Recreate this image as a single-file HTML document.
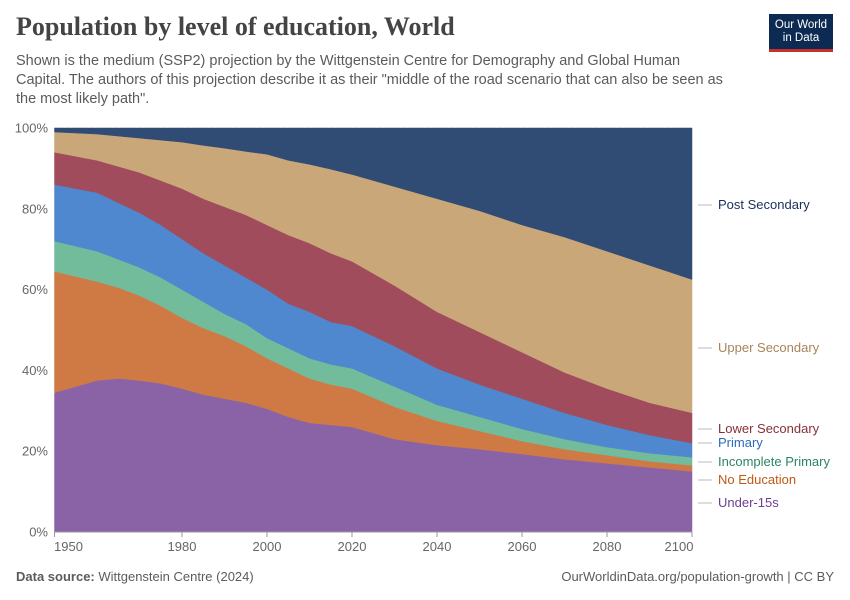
<!DOCTYPE html>
<html><head><meta charset="utf-8">
<style>
body{margin:0;width:850px;height:600px;background:#fff;font-family:"Liberation Sans",sans-serif;overflow:hidden}
.t{position:absolute}
</style></head><body>
<div class="t" style="left:16px;top:12px;font-family:'Liberation Serif',serif;font-size:26px;font-weight:bold;color:#444">Population by level of education, World</div>
<div class="t" style="left:16px;top:52px;width:715px;font-size:14.5px;line-height:19px;color:#5b5b5b">Shown is the medium (SSP2) projection by the Wittgenstein Centre for Demography and Global Human Capital. The authors of this projection describe it as their "middle of the road scenario that can also be seen as the most likely path".</div>
<div class="t" style="left:769px;top:14px;width:64px;height:38px;background:#0d2a52;color:#fff;font-size:11.5px;line-height:13px;text-align:center;padding-top:5px;box-sizing:border-box;border-bottom:3px solid #c8302c">Our World<br>in Data</div>
<svg class="t" style="left:0;top:0" width="850" height="600" id="chart"></svg>
<div class="t" style="left:16px;top:569px;font-size:13px;color:#5b5b5b"><b>Data source:</b> Wittgenstein Centre (2024)</div>
<div class="t" style="right:16px;top:569px;font-size:13px;color:#5b5b5b">OurWorldinData.org/population-growth | CC BY</div>
<script>
const years=[1950,1960,1965,1970,1975,1980,1985,1990,1995,2000,2005,2010,2015,2020,2030,2040,2050,2060,2070,2080,2090,2100];
const under15=[34.5,37.5,38,37.5,36.8,35.5,34,33,32,30.5,28.5,27,26.5,26,23,21.5,20.5,19.3,18,17,16,15];
const noEducation=[30,24.5,22.5,21,19.2,17.5,16.5,15.5,14,12.5,12,11,10,9.5,8,6,4.5,3.2,2.5,2,1.5,1.5];
const incompletePrimary=[7.5,7.5,7,7,7,7,6.5,5.5,5.5,5,5,5,5,5,5,4,3.5,3,2.5,2,2,2];
const primary=[14,14.5,14,13.5,13,12.5,12,12,11.5,12,11,11.5,10.5,10.5,10,9,8,7.5,6.5,5.5,4.5,3.5];
const lowerSecondary=[8,8,9,10,11,12.5,13.5,14.5,15.5,16,17,17,17,16,15,14,13,11.5,10,9,8,7.5];
const upperSecondary=[5,6.5,7.5,8.5,10,11.5,13.2,14.5,15.7,17.5,18.5,19.5,20.8,21.5,24.5,28,30,31.5,33.5,34,34,33];
const postSecondary=[1,1.5,2,2.5,3,3.5,4.3,5,5.8,6.5,8,9,10.2,11.5,14.5,17.5,20.5,24,27,30.5,34,37.5];
const yTicks=[0,20,40,60,80,100];
const xTicks=[1950,1980,2000,2020,2040,2060,2080,2100];
const series=[
 {n:"Under-15s",v:under15,c:"#8a63a6",tc:"#6d3e91",ly:507,k:"under-15s"},
 {n:"No Education",v:noEducation,c:"#cf7a45",tc:"#be5915",ly:484,k:"no-education"},
 {n:"Incomplete Primary",v:incompletePrimary,c:"#72bb9b",tc:"#2c8465",ly:466,k:"incomplete-primary"},
 {n:"Primary",v:primary,c:"#4f88cf",tc:"#286bbb",ly:447,k:"primary"},
 {n:"Lower Secondary",v:lowerSecondary,c:"#a04c5c",tc:"#883039",ly:433,k:"lower-secondary"},
 {n:"Upper Secondary",v:upperSecondary,c:"#c9a779",tc:"#a8845a",ly:352,k:"upper-secondary"},
 {n:"Post Secondary",v:postSecondary,c:"#304c75",tc:"#18305c",ly:209,k:"post-secondary"}];
const X0=54.5,X1=692,Y0=532,Y1=128;
const xs=y=>X0+(y-1950)/150*(X1-X0);
const ys=p=>Y0-p/100*(Y0-Y1);
const svg=document.getElementById('chart');const NS="http://www.w3.org/2000/svg";
function mk(t,a){const e=document.createElementNS(NS,t);for(const k in a)e.setAttribute(k,a[k]);svg.appendChild(e);return e;}
yTicks.forEach(t=>{
 const l=mk('line',{x1:X0,x2:X1,y1:ys(t),y2:ys(t),stroke:'#ddd','stroke-dasharray':t?'3,3':'0'});
 
 
 const tx=mk('text',{x:48,y:ys(t)+4.5,'text-anchor':'end','font-size':13,fill:'#666'});tx.textContent=t+'%';
 
 
});
let base=years.map(()=>0);
series.forEach(s=>{
 const top=base.map((b,i)=>b+s.v[i]);
 let d='M'+years.map((y,i)=>xs(y)+','+ys(top[i])).join('L');
 d+='L'+years.slice().reverse().map((y,j)=>xs(y)+','+ys(base[years.length-1-j])).join('L')+'Z';
 const p=mk('path',{d:d,fill:s.c,stroke:s.c,'stroke-width':0.5});
 
 
 base=top;
});
mk('line',{x1:X0,x2:X1,y1:Y0,y2:Y0,stroke:'#999'});
xTicks.forEach(t=>{
 mk('line',{x1:xs(t),x2:xs(t),y1:Y0,y2:Y0+5,stroke:'#999'});
 const tx=mk('text',{x:xs(t)+(t==1950?14:t==2100?-13:0),y:Y0+19,'text-anchor':'middle','font-size':13,fill:'#666'});tx.textContent=t;
 
 
});
series.forEach(s=>{
 const l=mk('line',{x1:698,x2:712,y1:s.ly-4,y2:s.ly-4,stroke:'#bbb'});
 
 
 const tx=mk('text',{x:718,y:s.ly,'font-size':13,fill:s.tc});tx.textContent=s.n;
 
 
});
</script>
</body></html>
